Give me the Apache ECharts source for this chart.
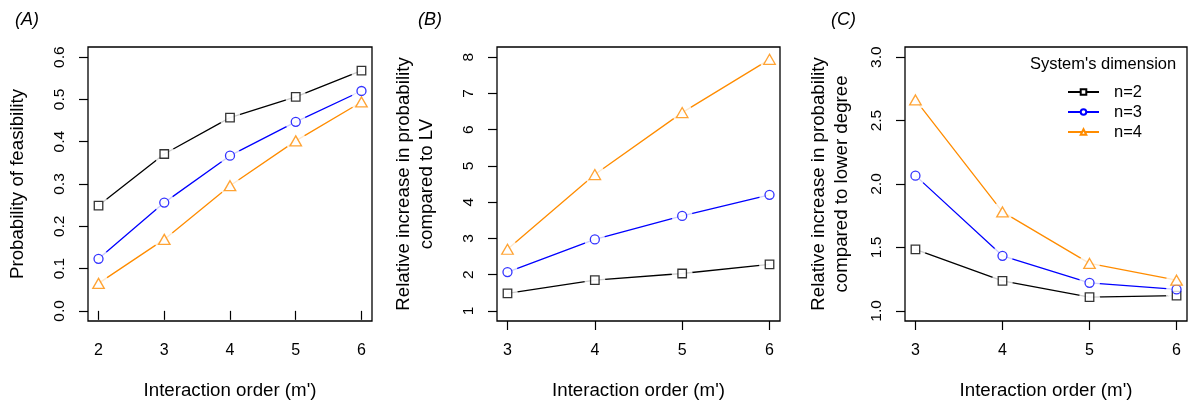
<!DOCTYPE html>
<html>
<head>
<meta charset="utf-8">
<script src="https://cdn.jsdelivr.net/npm/echarts@6/dist/echarts.min.js"></script>
<style>
  html, body { margin: 0; padding: 0; background: #fff; }
  #chart { width: 1188px; height: 401px; }
</style>
</head>
<body>
<div id="chart"></div>
<script>
// interaction order (m') per panel
var orderA = [2, 3, 4, 5, 6];
var orderBC = [3, 4, 5, 6];

// (A) probability of feasibility
var feasN2 = [0.249, 0.371, 0.457, 0.506, 0.568];
var feasN3 = [0.123, 0.256, 0.367, 0.447, 0.520];
var feasN4 = [0.065, 0.169, 0.296, 0.402, 0.494];

// (B) relative increase compared to LV
var incN2 = [1.48, 1.85, 2.03, 2.28];
var incN3 = [2.07, 2.97, 3.62, 4.20];
var incN4 = [2.70, 4.76, 6.47, 7.94];

// (C) relative increase compared to lower degree
var stepN2 = [1.485, 1.237, 1.108, 1.120];
var stepN3 = [2.066, 1.434, 1.221, 1.169];
var stepN4 = [2.663, 1.780, 1.374, 1.242];

// tick labels
var ticksA = [0, 0.1, 0.2, 0.3, 0.4, 0.5, 0.6];
var ticksB = [1, 2, 3, 4, 5, 6, 7, 8];
var ticksC = [1.0, 1.5, 2.0, 2.5, 3.0];

var groups = ['n=2', 'n=3', 'n=4'];
var colors = ['#000000', '#0000ff', '#ff8c00'];
var symbols = ['rect', 'circle', 'triangle'];
var symbolSizes = [8.5, 9, [11.5, 10]];

var font = 'Liberation Sans, Arial, Helvetica, sans-serif';

// R style range: 4% padding on each side
function lim(t) {
  var d = (t[t.length - 1] - t[0]) * 0.04;
  return [t[0] - d, t[t.length - 1] + d];
}

function xAxisFor(i, ticks) {
  var r = lim(ticks);
  return {
    type: 'value', gridIndex: i, min: r[0], max: r[1],
    axisLine: { show: false },
    splitLine: { show: false },
    axisTick: { show: true, length: 9, customValues: ticks, lineStyle: { color: '#000', width: 1.2 } },
    axisLabel: { customValues: ticks, fontSize: 16, color: '#000', margin: 22, fontFamily: font },
    name: "Interaction order (m')", nameLocation: 'middle', nameGap: 60,
    nameTextStyle: { fontSize: 18.7, color: '#000', fontFamily: font }
  };
}

function yAxisFor(i, ticks, digits, name, gap) {
  var r = lim(ticks);
  return {
    type: 'value', gridIndex: i, min: r[0], max: r[1],
    axisLine: { show: false },
    splitLine: { show: false },
    axisTick: { show: true, length: 9, customValues: ticks, lineStyle: { color: '#000', width: 1.2 } },
    axisLabel: {
      customValues: ticks, rotate: 90, fontSize: 15.5, color: '#000', margin: 20, fontFamily: font,
      formatter: function (v) { return v.toFixed(digits); }
    },
    name: name, nameLocation: 'middle', nameGap: gap,
    nameTextStyle: { fontSize: 18.7, lineHeight: 23.5, color: '#000', fontFamily: font, align: 'center' }
  };
}

function pairs(xs, ys) {
  return xs.map(function (x, k) { return [x, ys[k]]; });
}

// each group: line, white mask (the gap around points, like type="b"), hollow symbols
var series = [];
function addPanel(i, xs, ysList) {
  ysList.forEach(function (ys, g) {
    var d = pairs(xs, ys);
    series.push({
      name: groups[g], type: 'line', xAxisIndex: i, yAxisIndex: i, data: d,
      symbol: symbols[g], showSymbol: false, z: 2 + 2 * g,
      itemStyle: { color: '#fff', borderColor: colors[g], borderWidth: 1.3 },
      lineStyle: { color: colors[g], width: 1.3 }
    });
    series.push({
      name: groups[g], type: 'scatter', xAxisIndex: i, yAxisIndex: i, data: d,
      symbol: 'circle', symbolSize: 21, silent: true, z: 3 + 2 * g,
      itemStyle: { color: '#fff' }
    });
    series.push({
      name: groups[g], type: 'scatter', xAxisIndex: i, yAxisIndex: i, data: d,
      symbol: symbols[g], symbolSize: symbolSizes[g], z: 20,
      itemStyle: { color: '#fff', borderColor: colors[g], borderWidth: 1.3 }
    });
  });
}
addPanel(0, orderA, [feasN2, feasN3, feasN4]);
addPanel(1, orderBC, [incN2, incN3, incN4]);
addPanel(2, orderBC, [stepN2, stepN3, stepN4]);

var chart = echarts.init(document.getElementById('chart'));
var gridBase = {
  top: 47, height: 274, show: true, borderColor: '#000', borderWidth: 1.3,
  backgroundColor: 'transparent', z: 50, outerBoundsMode: 'none', containLabel: false
};
var panelTitle = { fontSize: 18, fontStyle: 'italic', fontWeight: 'normal', color: '#000', fontFamily: font };
chart.setOption({
  animation: false,
  backgroundColor: '#fff',
  textStyle: { fontFamily: font },
  title: [
    { text: '(A)', left: 15, top: 11, padding: 0, textStyle: panelTitle },
    { text: '(B)', left: 418, top: 11, padding: 0, textStyle: panelTitle },
    { text: '(C)', left: 831, top: 11, padding: 0, textStyle: panelTitle },
    { text: "System's dimension", left: 1030, top: 56, padding: 0, textStyle: { fontSize: 16.5, fontWeight: 'normal', color: '#000', fontFamily: font } }
  ],
  legend: {
    data: groups, orient: 'vertical', left: 1067, top: 82, padding: 0,
    itemWidth: 31, itemHeight: 7, itemGap: 0,
    textStyle: { fontSize: 16.5, lineHeight: 20, color: '#000', padding: [0, 0, 0, 10], fontFamily: font }
  },
  grid: [
    Object.assign({ left: 88, width: 284 }, gridBase),
    Object.assign({ left: 497, width: 283 }, gridBase),
    Object.assign({ left: 905, width: 282 }, gridBase)
  ],
  xAxis: [xAxisFor(0, orderA), xAxisFor(1, orderBC), xAxisFor(2, orderBC)],
  yAxis: [
    yAxisFor(0, ticksA, 1, 'Probability of feasibility', 58),
    yAxisFor(1, ticksB, 0, 'Relative increase in probability\ncompared to LV', 58),
    yAxisFor(2, ticksC, 1, 'Relative increase in probability\ncompared to lower degree', 51)
  ],
  series: series
});
</script>
</body>
</html>
